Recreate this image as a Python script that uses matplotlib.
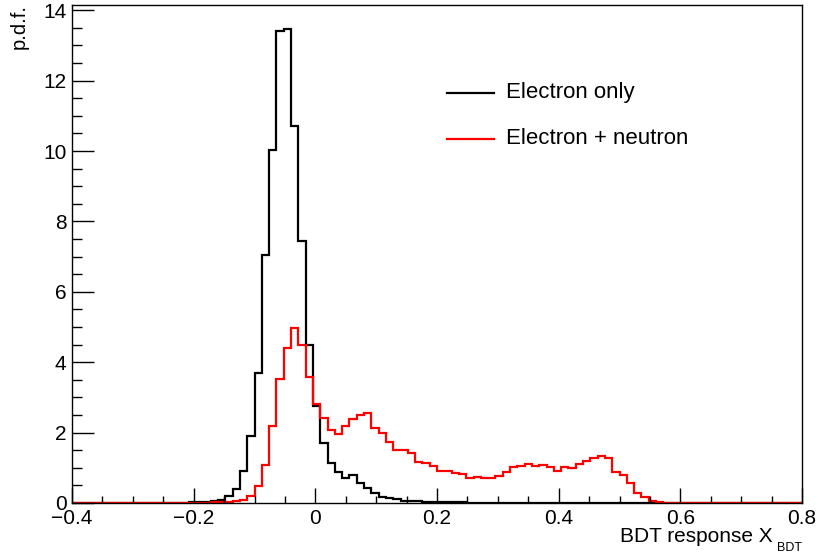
import numpy as np
import matplotlib
matplotlib.use("Agg")
import matplotlib.pyplot as plt
from matplotlib.ticker import MultipleLocator, FuncFormatter
from matplotlib.lines import Line2D

# Binning: 100 bins on [-0.4, 0.8]
x_min, x_max, n_bins = -0.4, 0.8, 100

# p.d.f. per bin, electron-only sample
electron_only = [
    0, 0, 0, 0, 0, 0, 0, 0, 0, 0,
    0, 0, 0.005, 0.005, 0.01, 0.01, 0.015, 0.02, 0.03, 0.05,
    0.09, 0.21, 0.40, 0.91, 1.89, 3.68, 7.05, 10.02, 13.42, 13.48,
    10.70, 7.45, 4.48, 2.77, 1.70, 1.14, 0.88, 0.70, 0.80, 0.56,
    0.42, 0.28, 0.18, 0.13, 0.10, 0.07, 0.06, 0.05, 0.04, 0.03,
    0.03, 0.02, 0.02, 0.015, 0.01, 0.01, 0.005, 0.005, 0, 0,
    0, 0, 0, 0, 0, 0, 0, 0, 0, 0,
    0, 0, 0, 0, 0, 0, 0, 0, 0, 0,
    0, 0, 0, 0, 0, 0, 0, 0, 0, 0,
    0, 0, 0, 0, 0, 0, 0, 0, 0, 0,
]

# p.d.f. per bin, electron + neutron sample
electron_neutron = [
    0, 0, 0, 0, 0, 0, 0, 0, 0, 0,
    0, 0, 0, 0, 0, 0, 0, 0.005, 0.01, 0.015,
    0.02, 0.03, 0.05, 0.09, 0.20, 0.49, 1.09, 2.20, 3.52, 4.40,
    4.98, 4.50, 3.59, 2.80, 2.41, 2.08, 1.95, 2.20, 2.39, 2.50,
    2.55, 2.12, 1.98, 1.74, 1.50, 1.52, 1.41, 1.17, 1.14, 1.06,
    0.92, 0.91, 0.86, 0.82, 0.72, 0.75, 0.70, 0.71, 0.78, 0.88,
    1.01, 1.05, 1.12, 1.05, 1.09, 1.01, 0.92, 1.01, 1.00, 1.10,
    1.19, 1.27, 1.33, 1.29, 0.88, 0.80, 0.56, 0.29, 0.16, 0.06,
    0.02, 0.01, 0, 0, 0, 0, 0, 0, 0, 0,
    0, 0, 0, 0, 0, 0, 0, 0, 0, 0,
]

series_labels = ["Electron only", "Electron + neutron"]
series_colors = ["black", "#ff0000"]

W, H = 819, 554
fig = plt.figure(figsize=(W / 100, H / 100), dpi=100)
plt.rcParams["font.family"] = ["Liberation Sans", "DejaVu Sans"]


def fx(px):
    return px / W


def fy(py):
    return 1 - py / H


ax_left, ax_right, ax_top, ax_bottom = 72, 802, 5, 503
ax = fig.add_axes([fx(ax_left), fy(ax_bottom),
                   fx(ax_right - ax_left), (ax_bottom - ax_top) / H])

edges = np.linspace(x_min, x_max, n_bins + 1)
for vals, col in zip([electron_only, electron_neutron], series_colors):
    ax.stairs(vals, edges, color=col, linewidth=1.6, baseline=None)

ax.set_xlim(x_min, x_max)
ax.set_ylim(0, 14.15)

ax.xaxis.set_major_locator(MultipleLocator(0.2))
ax.xaxis.set_minor_locator(MultipleLocator(0.05))
ax.yaxis.set_major_locator(MultipleLocator(2))
ax.yaxis.set_minor_locator(MultipleLocator(0.5))


def fmt(v, pos):
    s = f"{v:.1f}".rstrip("0").rstrip(".")
    if s in ("-0", "0"):
        return "0"
    return s.replace("-", "\u2212")


ax.xaxis.set_major_formatter(FuncFormatter(fmt))
ax.yaxis.set_major_formatter(FuncFormatter(fmt))

ax.tick_params(axis="x", which="major", direction="in", length=10.5, width=1.0,
               labelsize=15, pad=4, top=False)
ax.tick_params(axis="x", which="minor", direction="in", length=5, width=1.0, top=False)
ax.tick_params(axis="y", which="major", direction="in", length=15.5, width=1.0,
               labelsize=15, pad=4, right=False)
ax.tick_params(axis="y", which="minor", direction="in", length=7.2, width=1.0, right=False)
for sp in ax.spines.values():
    sp.set_linewidth(1.0)

# Axis titles
fig.text(fx(773), fy(536), "BDT response X", ha="right", va="center", fontsize=15)
fig.text(fx(790), fy(548), "BDT", ha="center", va="center", fontsize=9)
fig.text(fx(19), fy(4), "p.d.f.", ha="center", va="top", rotation=90, fontsize=14.5)

# Legend
leg_y = [93, 139]
for y, lab, col in zip(leg_y, series_labels, series_colors):
    fig.add_artist(Line2D([fx(447), fx(494)], [fy(y), fy(y)], color=col, linewidth=1.6))
    fig.text(fx(506), fy(y), lab, ha="left", va="center", fontsize=16)

fig.savefig("out.png", dpi=100)
